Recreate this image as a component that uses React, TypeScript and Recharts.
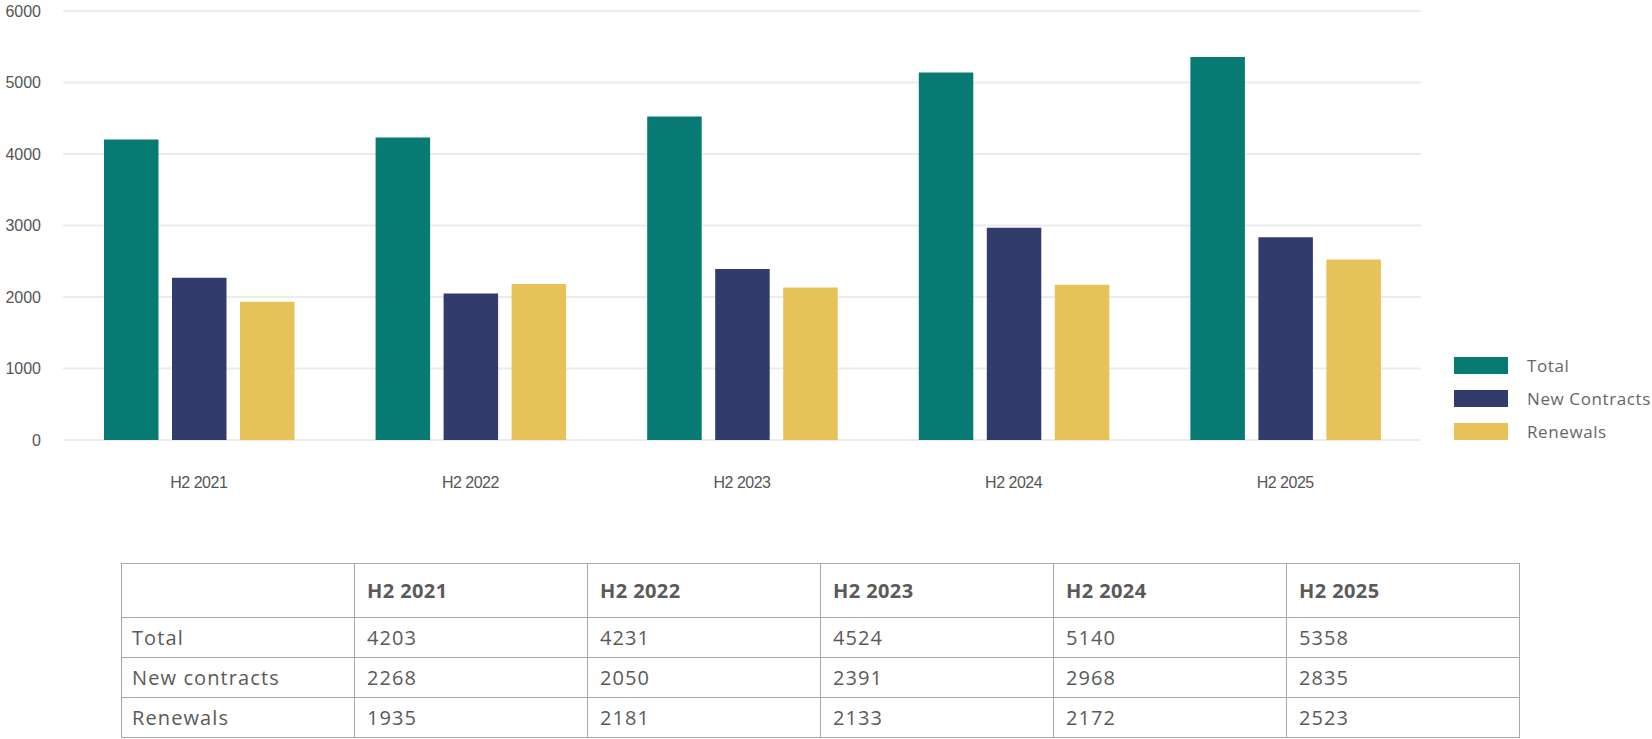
import { BarChart, Bar, XAxis, YAxis, CartesianGrid } from "recharts";

const categories = ["H2 2021", "H2 2022", "H2 2023", "H2 2024", "H2 2025"];
const totals = [4203, 4231, 4524, 5140, 5358];
const newContracts = [2268, 2050, 2391, 2968, 2835];
const renewals = [1935, 2181, 2133, 2172, 2523];
const yTicks = [0, 1000, 2000, 3000, 4000, 5000, 6000];

const series = [
  { key: "total", name: "Total", rowLabel: "Total", color: "#087a74", values: totals },
  { key: "newContracts", name: "New Contracts", rowLabel: "New contracts", color: "#313b6c", values: newContracts },
  { key: "renewals", name: "Renewals", rowLabel: "Renewals", color: "#e6c258", values: renewals },
];

const data = categories.map((cat, i) => ({
  cat,
  total: totals[i],
  newContracts: newContracts[i],
  renewals: renewals[i],
}));

const textFont = "'Open Sans', sans-serif";
const axisFont = "'Liberation Sans', Arial, sans-serif";
const border = "1px solid #a8a8a8";

function Legend() {
  return (
    <div style={{ position: "absolute", left: 1454, top: 357 }}>
      {series.map((s) => (
        <div key={s.key} style={{ display: "flex", alignItems: "center", height: 17, marginBottom: 16 }}>
          <div style={{ width: 54, height: 16.5, background: s.color }} />
          <span
            style={{
              marginLeft: 19,
              fontFamily: textFont,
              fontSize: 17,
              letterSpacing: 0.6,
              color: "#666",
              whiteSpace: "nowrap",
            }}
          >
            {s.name}
          </span>
        </div>
      ))}
    </div>
  );
}

function DataTable() {
  const cell = (first: boolean): React.CSSProperties => ({
    border,
    padding: 0,
    paddingLeft: first ? 10 : 12,
    textAlign: "left",
    boxSizing: "border-box",
  });
  return (
    <table
      style={{
        position: "absolute",
        left: 121,
        top: 563,
        width: 1397,
        borderCollapse: "collapse",
        tableLayout: "fixed",
        fontFamily: textFont,
        color: "#5a5a5a",
        fontSize: 20,
        letterSpacing: 1.1,
      }}
    >
      <colgroup>
        <col style={{ width: 233 }} />
        {categories.map((c) => (
          <col key={c} style={{ width: 233 }} />
        ))}
      </colgroup>
      <thead>
        <tr style={{ height: 54 }}>
          <th style={cell(true)} />
          {categories.map((c) => (
            <th key={c} style={{ ...cell(false), fontWeight: 700, letterSpacing: 0.4 }}>
              {c}
            </th>
          ))}
        </tr>
      </thead>
      <tbody>
        {series.map((s) => (
          <tr key={s.key} style={{ height: 40 }}>
            <td style={cell(true)}>{s.rowLabel}</td>
            {s.values.map((v, i) => (
              <td key={i} style={cell(false)}>
                {v}
              </td>
            ))}
          </tr>
        ))}
      </tbody>
    </table>
  );
}

export default function App() {
  return (
    <div style={{ position: "absolute", left: 0, top: 0, width: 1652, height: 739, background: "#fff" }}>
      <BarChart
        width={1652}
        height={500}
        data={data}
        margin={{ top: 11, right: 231, left: 0, bottom: 0 }}
        barGap={13.5}
      >
        <CartesianGrid vertical={false} stroke="#ececec" strokeWidth={2} />
        <XAxis
          dataKey="cat"
          height={60}
          axisLine={false}
          tickLine={false}
          tickSize={0}
          tickMargin={37}
          tick={{ fill: "#555", fontSize: 16, fontFamily: axisFont, letterSpacing: -0.5 }}
        />
        <YAxis
          width={63}
          domain={[0, 6000]}
          ticks={yTicks}
          axisLine={false}
          tickLine={false}
          tickSize={0}
          tickMargin={22}
          tick={{ fill: "#555", fontSize: 16, fontFamily: axisFont }}
        />
        {series.map((s) => (
          <Bar key={s.key} dataKey={s.key} name={s.name} fill={s.color} barSize={54.5} isAnimationActive={false} />
        ))}
      </BarChart>
      <Legend />
      <DataTable />
    </div>
  );
}
